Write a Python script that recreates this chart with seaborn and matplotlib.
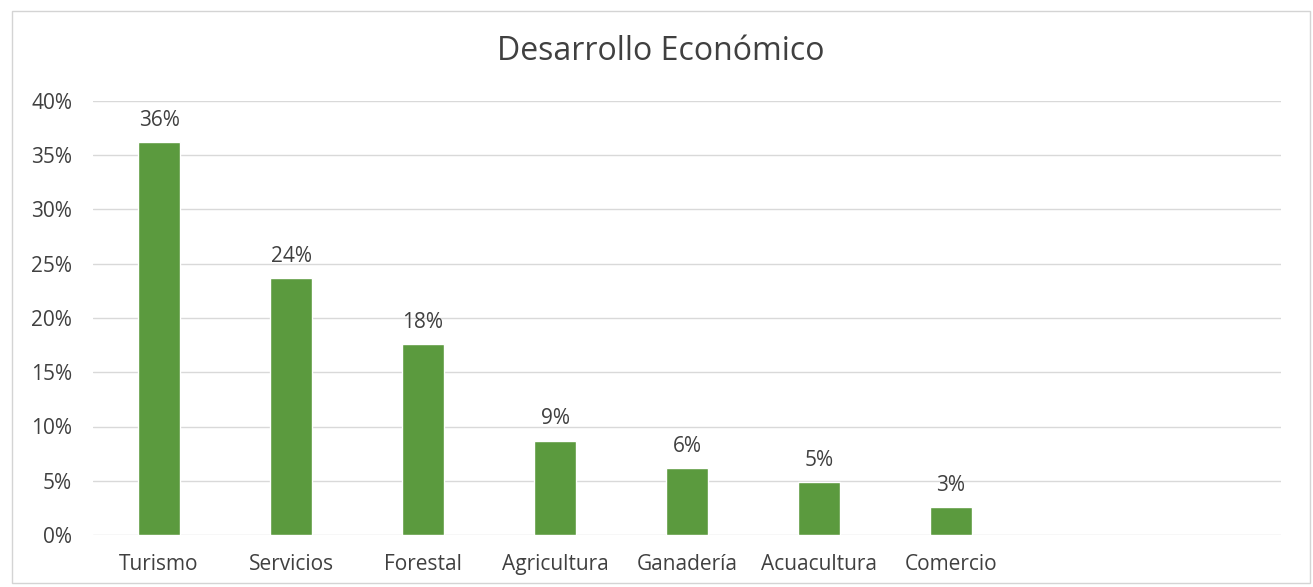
import matplotlib
matplotlib.use("Agg")
import matplotlib.pyplot as plt
import seaborn as sns
import pandas as pd
from matplotlib.patches import Rectangle
from matplotlib.ticker import PercentFormatter, MultipleLocator

categories = ["Turismo", "Servicios", "Forestal", "Agricultura", "Ganadería", "Acuacultura", "Comercio"]
values = [0.362, 0.237, 0.176, 0.087, 0.062, 0.049, 0.026]
title = "Desarrollo Económico"

sns.set_theme(style="white")
plt.rcParams['font.family'] = ['Open Sans', 'DejaVu Sans']

df = pd.DataFrame({"cat": categories, "val": values})
text_color = "#404040"

fig = plt.figure(figsize=(13.13, 5.87), dpi=100)
fig.patch.set_facecolor("white")
ax = fig.add_axes([93/1313, 1-535/587, (1281-93)/1313, (535-101)/587])

sns.barplot(data=df, x="cat", y="val", color="#5B9A3E", saturation=1, width=0.32, ax=ax, zorder=3)
ax.set_xlim(-0.5, 8.5)
ax.set_ylim(0, 0.40)
ax.yaxis.set_major_locator(MultipleLocator(0.05))
ax.yaxis.set_major_formatter(PercentFormatter(1.0, decimals=0))
ax.grid(axis="y", color="#d9d9d9", linewidth=1.0, zorder=0)
ax.grid(axis="x", visible=False)
for s in ax.spines.values():
    s.set_visible(False)
ax.set_xlabel("")
ax.set_ylabel("")
ax.tick_params(axis="both", length=0, labelsize=15, labelcolor=text_color)
ax.tick_params(axis="y", pad=15)
ax.tick_params(axis="x", pad=14)

for c in ax.containers:
    ax.bar_label(c, labels=[f"{round(v*100):.0f}%" for v in c.datavalues],
                 padding=8, fontsize=15, color=text_color)

fig.text(661/1313, 1-52/587, title, ha="center", va="center", fontsize=23, color=text_color)

fig.patches.append(Rectangle((12/1313, 1-583/587), (1310-12)/1313, (583-11)/587,
                             transform=fig.transFigure, fill=False, edgecolor="#d4d4d4", linewidth=1))

fig.savefig("out.png", dpi=100)
